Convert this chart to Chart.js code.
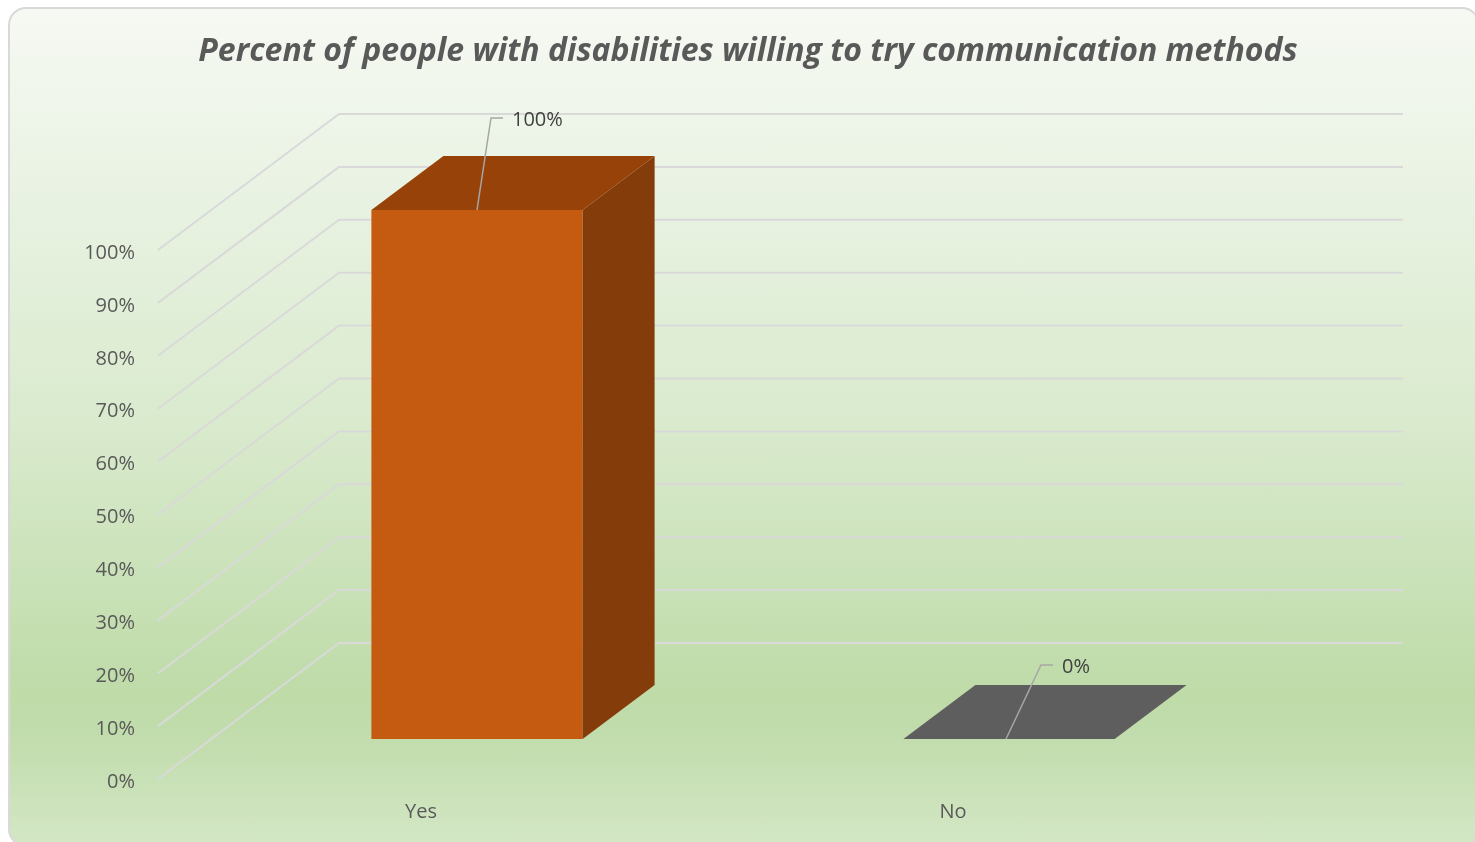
<!DOCTYPE html>
<html>
<head>
<meta charset="utf-8">
<title>Willingness to try communication methods</title>
<script src="https://cdn.jsdelivr.net/npm/chart.js@4.4.0/dist/chart.umd.min.js"></script>
<style>
  html, body { margin: 0; padding: 0; width: 1475px; height: 842px; overflow: hidden; background: #ffffff; }
  #card {
    position: absolute; left: 8px; top: 7px; width: 1472px; height: 840px;
    box-sizing: border-box; border: 2px solid #d9d9d9; border-radius: 18px;
    background: linear-gradient(to bottom, #f6f9f3 0%, #eaf3e4 20%, #d9eacd 50%, #bedba8 82%, #c3ddae 88%, #d3e7c5 100%);
  }
  #chart { position: absolute; left: 0; top: 0; }
</style>
</head>
<body>
<div id="card"></div>
<canvas id="chart" width="1475" height="842"></canvas>
<script>
// ---- data ----
const titleText = 'Percent of people with disabilities willing to try communication methods';
const categories = ['Yes', 'No'];
const percentValues = [100, 0];
const yTickValues = [0, 10, 20, 30, 40, 50, 60, 70, 80, 90, 100];

// ---- colours for the three visible faces of each column ----
const frontColors = ['#c55a11', '#5e5e5e'];
const topColors = ['#964209', '#5e5e5e'];
const sideColors = ['#843c0b', '#4b4b4b'];

// oblique projection: offsets (px) of the floor's front edge and the back wall
// relative to the plane of the column fronts, and the depth of a column
const WALL_FRONT = [-53, 40];
const WALL_BACK = [128, -96];
const BAR_DEPTH = [72, -54];

// callout leaders for the value labels: bend point and end point, relative to the column's top front centre
const callouts = [
  { start: [0, 0], bend: [14, -92], end: [26, -92] },
  { start: [-3, 0], bend: [32, -74], end: [44, -74] }
];

const FONT = '"Open Sans", "DejaVu Sans", sans-serif';

// back wall and left side wall grid lines
const wallPlugin = {
  id: 'walls',
  beforeDatasetsDraw(chart) {
    const { ctx, chartArea: a } = chart;
    const y = chart.scales.y;
    ctx.save();
    ctx.strokeStyle = '#d9d9d9';
    ctx.lineWidth = 2;
    ctx.lineJoin = 'round';
    yTickValues.forEach(v => {
      const py = y.getPixelForValue(v);
      ctx.beginPath();
      ctx.moveTo(a.left + WALL_FRONT[0], py + WALL_FRONT[1]);
      ctx.lineTo(a.left + WALL_BACK[0], py + WALL_BACK[1]);
      ctx.lineTo(a.right + WALL_BACK[0], py + WALL_BACK[1]);
      ctx.stroke();
    });
    ctx.restore();
  }
};

// top and side faces of the columns, plus value labels with leader lines
const columnPlugin = {
  id: 'columns3d',
  afterDatasetsDraw(chart) {
    const { ctx } = chart;
    const meta = chart.getDatasetMeta(0);
    const [dx, dy] = BAR_DEPTH;
    ctx.save();
    meta.data.forEach((bar, i) => {
      const { x, y, base, width } = bar.getProps(['x', 'y', 'base', 'width'], true);
      const l = x - width / 2, r = x + width / 2;
      // side face
      if (base - y > 0.5) {
        ctx.fillStyle = sideColors[i];
        ctx.beginPath();
        ctx.moveTo(r, y);
        ctx.lineTo(r + dx, y + dy);
        ctx.lineTo(r + dx, base + dy);
        ctx.lineTo(r, base);
        ctx.closePath();
        ctx.fill();
      }
      // top face
      ctx.fillStyle = topColors[i];
      ctx.beginPath();
      ctx.moveTo(l, y);
      ctx.lineTo(r, y);
      ctx.lineTo(r + dx, y + dy);
      ctx.lineTo(l + dx, y + dy);
      ctx.closePath();
      ctx.fill();
    });

    // value labels
    meta.data.forEach((bar, i) => {
      const { x, y } = bar.getProps(['x', 'y'], true);
      const c = callouts[i];
      ctx.strokeStyle = '#a6a6a6';
      ctx.lineWidth = 1.5;
      ctx.beginPath();
      ctx.moveTo(x + c.start[0], y + c.start[1]);
      ctx.lineTo(x + c.bend[0], y + c.bend[1]);
      ctx.lineTo(x + c.end[0], y + c.end[1]);
      ctx.stroke();
      ctx.fillStyle = '#404040';
      ctx.font = '20px ' + FONT;
      ctx.textAlign = 'left';
      ctx.textBaseline = 'middle';
      ctx.fillText(percentValues[i] + '%', x + c.end[0] + 9, y + c.end[1] + 2);
    });
    ctx.restore();
  }
};

// chart title, centred on the whole card
const titlePlugin = {
  id: 'cardTitle',
  afterDraw(chart) {
    const { ctx } = chart;
    ctx.save();
    ctx.fillStyle = '#595959';
    ctx.font = 'italic bold 32px ' + FONT;
    ctx.textAlign = 'center';
    ctx.textBaseline = 'middle';
    ctx.fillText(titleText, 748, 52);
    ctx.restore();
  }
};

new Chart(document.getElementById('chart'), {
  type: 'bar',
  data: {
    labels: categories,
    datasets: [{
      data: percentValues,
      backgroundColor: frontColors,
      borderWidth: 0,
      categoryPercentage: 1,
      barPercentage: 0.397
    }]
  },
  options: {
    responsive: false,
    animation: false,
    devicePixelRatio: 1,
    layout: { padding: { top: 210, right: 200, bottom: 0, left: 0 } },
    plugins: {
      legend: { display: false },
      tooltip: { enabled: false },
      title: { display: false }
    },
    scales: {
      x: {
        grid: { display: false, drawTicks: false },
        border: { display: false },
        ticks: {
          color: '#595959',
          font: { family: FONT, size: 20 },
          padding: 61,
          labelOffset: -56,
          maxRotation: 0
        },
        afterFit(s) { s.height = 103; }
      },
      y: {
        min: 0,
        max: 100,
        afterBuildTicks(s) { s.ticks = yTickValues.map(v => ({ value: v })); },
        grid: { display: false, drawTicks: false },
        border: { display: false },
        ticks: {
          color: '#595959',
          font: { family: FONT, size: 20 },
          padding: 76,
          labelOffset: 43,
          callback: v => v + '%'
        },
        afterFit(s) { s.width = 211; }
      }
    }
  },
  plugins: [wallPlugin, columnPlugin, titlePlugin]
});
</script>
</body>
</html>
